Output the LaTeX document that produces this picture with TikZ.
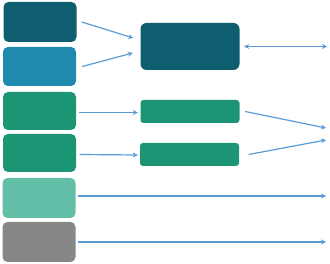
\documentclass[tikz,border=0pt]{standalone}
\usepackage{xcolor}
\usetikzlibrary{arrows.meta, positioning}

\definecolor{tealdark}{HTML}{0E5E6F}
\definecolor{bluemid}{HTML}{2089AF}
\definecolor{greenmid}{HTML}{1B9574}
\definecolor{greenlight}{HTML}{63BEA8}
\definecolor{greymid}{HTML}{878787}
\definecolor{arrowblue}{HTML}{5B9BD5}

\begin{document}
\begin{tikzpicture}[x=1pt, y=-1pt, >={Stealth[length=5pt, width=5pt]},
  leftbox/.style={rounded corners=5pt, minimum width=73pt, minimum height=39pt, inner sep=0pt},
  midbox/.style={rounded corners=3pt, minimum width=99pt, minimum height=23pt, inner sep=0pt},
  link/.style={->, arrowblue, line width=1.2pt}]
  \useasboundingbox (0,0) rectangle (330,264);

  % left column
  \node[leftbox, fill=tealdark, minimum height=40pt] (src1) at (40,22) {};
  \node[leftbox, fill=bluemid] (src2) at (39.5,66.5) {};
  \node[leftbox, fill=greenmid, minimum height=38pt] (src3) at (39.5,111) {};
  \node[leftbox, fill=greenmid, minimum height=38pt] (src4) at (39.5,153) {};
  \node[leftbox, fill=greenlight, minimum height=40pt] (src5) at (39,198) {};
  \node[leftbox, fill=greymid, minimum height=40pt] (src6) at (39,242) {};

  % middle column
  \node[rounded corners=6pt, fill=tealdark, minimum width=99pt, minimum height=47pt, inner sep=0pt] (hub) at (190,46.5) {};
  \node[midbox, fill=greenmid] (mid1) at (190,111.5) {};
  \node[midbox, fill=greenmid] (mid2) at (189.5,154.5) {};

  % right ends
  \coordinate (out1) at (327,46.5);
  \coordinate (out2) at (326,128);
  \coordinate (out3) at (326,140);
  \coordinate (out4) at (326,196);
  \coordinate (out5) at (326,242);

  \draw[link] ([xshift=5pt]src1.east) -- ([shift={(-7,-8.5)}]hub.west);
  \draw[link] ([xshift=6pt]src2.east) -- ([shift={(-7.5,6.5)}]hub.west);
  \draw[link, <->] ([xshift=4.5pt]hub.east) -- (out1);
  \draw[link] ([shift={(3,1.5)}]src3.east) -- ([shift={(-2.5,1)}]mid1.west);
  \draw[link] ([xshift=5.5pt]mid1.east) -- (out2);
  \draw[link] ([shift={(3.5,1.5)}]src4.east) -- ([shift={(-2,0.5)}]mid2.west);
  \draw[link] ([xshift=9.5pt]mid2.east) -- (out3);
  \draw[link] ([shift={(2.5,-2)}]src5.east) -- (out4);
  \draw[link] ([xshift=2.5pt]src6.east) -- (out5);
\end{tikzpicture}
\end{document}
